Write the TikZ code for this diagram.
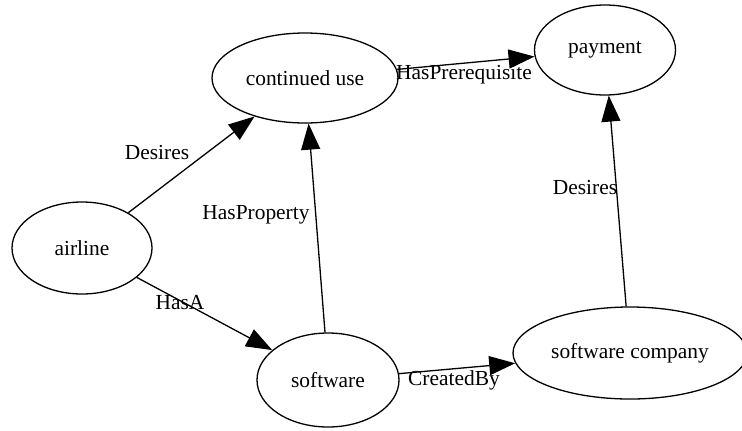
\documentclass[tikz,border=0pt]{standalone}
\usepackage{fontspec}
\setmainfont{Liberation Serif}
\usetikzlibrary{shapes.geometric,arrows.meta}

\tikzset{
  concept/.style={draw,ellipse,line width=1.3bp,inner sep=0pt,font=\fontsize{21.5}{25}\selectfont},
  relation/.style={draw,line width=1.3bp,-{Triangle[length=26bp,width=19bp]}},
  rlabel/.style={font=\fontsize{21.5}{25}\selectfont,inner sep=0pt}
}

\begin{document}
\begin{tikzpicture}[x=1bp,y=-1bp]
\useasboundingbox (0,0) rectangle (742,430);

% Concepts
\node[concept,minimum width=186bp,minimum height=90bp] (contuse) at (305,78) {continued use};
\node[concept,minimum width=141bp,minimum height=90bp] (payment) at (605,50) {payment};
\node[concept,minimum width=140bp,minimum height=92bp] (airline) at (82,248) {airline};
\node[concept,minimum width=142bp,minimum height=94bp] (software) at (328,380) {software};
\node[concept,minimum width=234bp,minimum height=92bp] (swcompany) at (630,353) {software company};

% Relations
\draw[relation] (airline) -- (contuse);
\draw[relation] (airline) -- (software);
\draw[relation] (software.north) ++(-3,0) coordinate (swtop) (swtop) -- (contuse);
\draw[relation] (contuse) -- (payment);
\draw[relation] (software) -- (swcompany);
\draw[relation] (swcompany) -- (payment);

% Relation labels
\node[rlabel] (ldesa) at (157,153) {Desires};
\node[rlabel] (lhasa) at (180,303) {HasA};
\node[rlabel] (lprop) at (256,215) {HasProperty};
\node[rlabel] (lprereq) at (464,75) {HasPrerequisite};
\node[rlabel] (lcreated) at (454,380) {CreatedBy};
\node[rlabel] (ldesb) at (585,188) {Desires};

\end{tikzpicture}
\end{document}
